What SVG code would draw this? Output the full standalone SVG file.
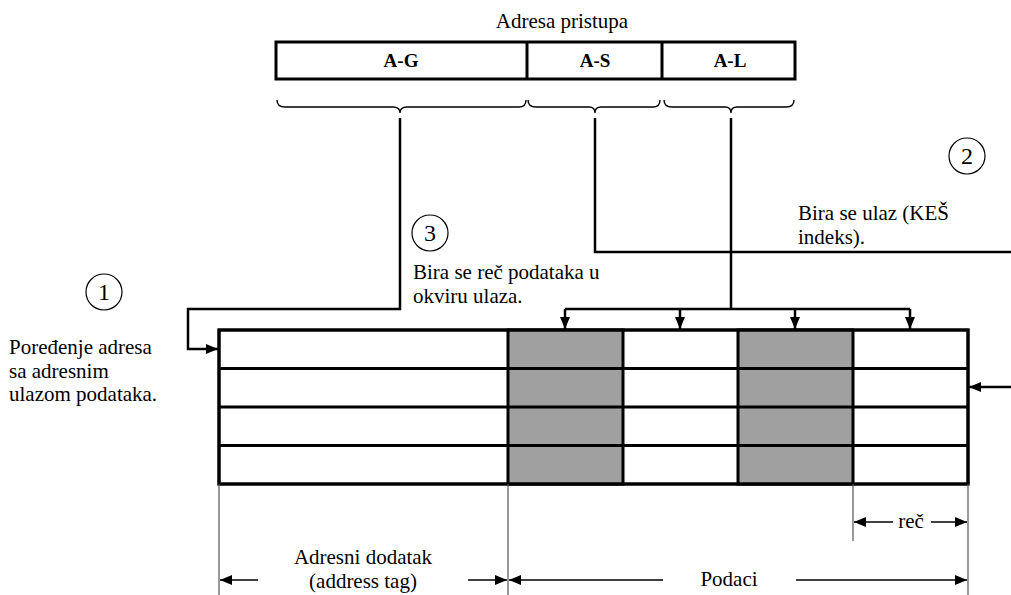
<svg xmlns="http://www.w3.org/2000/svg" width="1011" height="595" viewBox="0 0 1011 595">
  <style>
    text { font-family: 'Liberation Serif', 'Times New Roman', Times, serif; font-size: 21px; fill: #000; }
    .bold { font-weight: bold; font-size: 19px; }
    .mid { text-anchor: middle; }
    .num { font-size: 24px; text-anchor: middle; }
    .box { fill: #fff; stroke: #000; stroke-width: 3; }
    .gray { fill: #a0a0a0; stroke: #000; stroke-width: 3; }
    .wire { fill: none; stroke: #000; stroke-width: 2.5; }
    .dim { fill: none; stroke: #000; stroke-width: 1.6; }
    .ext { fill: none; stroke: #555; stroke-width: 1.2; }
    .brace { fill: none; stroke: #000; stroke-width: 1.4; }
    .circ { fill: none; stroke: #000; stroke-width: 1.2; }
  </style>
  <defs>
    <marker id="arr" markerUnits="userSpaceOnUse" markerWidth="14" markerHeight="12" refX="12" refY="6" orient="auto">
      <path d="M0,1 L12,6 L0,11 Z" fill="#000"/>
    </marker>
  </defs>

  <!-- access address fields -->
  <g id="address">
    <text class="mid" x="562" y="28">Adresa pristupa</text>
    <rect class="box" x="276" y="42" width="519" height="37"/>
    <line x1="527" y1="42" x2="527" y2="79" stroke="#000" stroke-width="3"/>
    <line x1="662" y1="42" x2="662" y2="79" stroke="#000" stroke-width="3"/>
    <text class="bold mid" x="401" y="67">A-G</text>
    <text class="bold mid" x="595" y="67">A-S</text>
    <text class="bold mid" x="730" y="67">A-L</text>
  </g>

  <!-- field braces -->
  <g id="braces">
    <path class="brace" d="M277,100 Q277,107 285,107 L393,107 Q400,107 400,113 Q400,107 407,107 L519,107 Q526,107 526,100"/>
    <path class="brace" d="M528,100 Q528,107 536,107 L589,107 Q595,107 595,113 Q595,107 601,107 L653,107 Q660,107 660,100"/>
    <path class="brace" d="M664,100 Q664,107 672,107 L725,107 Q731,107 731,113 Q731,107 737,107 L786,107 Q794,107 794,100"/>
  </g>

  <!-- cache table -->
  <g id="table">
    <rect class="box" x="219" y="330" width="749" height="154"/>
    <rect class="gray" x="508" y="330" width="115" height="154"/>
    <rect class="gray" x="738" y="330" width="115" height="154"/>
    <line x1="219" y1="368.5" x2="968" y2="368.5" stroke="#000" stroke-width="3"/>
    <line x1="219" y1="407" x2="968" y2="407" stroke="#000" stroke-width="3"/>
    <line x1="219" y1="445.5" x2="968" y2="445.5" stroke="#000" stroke-width="3"/>
    <rect x="219" y="330" width="749" height="154" fill="none" stroke="#000" stroke-width="3"/>
  </g>

  <!-- step markers -->
  <g id="step1">
    <circle class="circ" cx="104" cy="292" r="18"/>
    <text class="num" x="104" y="300">1</text>
    <text x="9" y="354">Poređenje adresa</text>
    <text x="9" y="378">sa adresnim</text>
    <text x="9" y="401">ulazom podataka.</text>
  </g>
  <g id="step2">
    <circle class="circ" cx="967" cy="156" r="18"/>
    <text class="num" x="967" y="164">2</text>
    <text x="798" y="220">Bira se ulaz (KEŠ</text>
    <text x="798" y="244">indeks).</text>
  </g>
  <g id="step3">
    <circle class="circ" cx="430" cy="233" r="18"/>
    <text class="num" x="430" y="241">3</text>
    <text x="413" y="279">Bira se reč podataka u</text>
    <text x="413" y="303">okviru ulaza.</text>
  </g>

  <!-- connectors -->
  <g id="connectors">
    <path class="wire" d="M400,118 L400,309 L188,309 L188,349 L218,349" marker-end="url(#arr)"/>
    <path class="wire" d="M595,118 L595,252 L1011,252"/>
    <path class="wire" d="M731,118 L731,309"/>
    <path class="wire" d="M565,309 L910,309"/>
    <path class="wire" d="M565,309 L565,329" marker-end="url(#arr)"/>
    <path class="wire" d="M680,309 L680,329" marker-end="url(#arr)"/>
    <path class="wire" d="M795,309 L795,329" marker-end="url(#arr)"/>
    <path class="wire" d="M910,309 L910,329" marker-end="url(#arr)"/>
    <path class="wire" d="M1011,387 L969,387" marker-end="url(#arr)"/>
  </g>

  <!-- dimensions -->
  <g id="dimensions">
    <line class="ext" x1="219" y1="484" x2="219" y2="595"/>
    <line class="ext" x1="508" y1="484" x2="508" y2="595"/>
    <line class="ext" x1="968" y1="484" x2="968" y2="595"/>
    <line class="ext" x1="853" y1="484" x2="853" y2="541"/>
    <path class="dim" d="M893,522 L854,522" marker-end="url(#arr)"/>
    <path class="dim" d="M931,522 L967,522" marker-end="url(#arr)"/>
    <text class="mid" x="911" y="528">reč</text>
    <path class="dim" d="M258,580 L220,580" marker-end="url(#arr)"/>
    <path class="dim" d="M468,580 L507,580" marker-end="url(#arr)"/>
    <text class="mid" x="363" y="564">Adresni dodatak</text>
    <text class="mid" x="363" y="588">(address tag)</text>
    <path class="dim" d="M663,580 L509,580" marker-end="url(#arr)"/>
    <path class="dim" d="M796,580 L967,580" marker-end="url(#arr)"/>
    <text class="mid" x="729" y="586">Podaci</text>
  </g>
</svg>
